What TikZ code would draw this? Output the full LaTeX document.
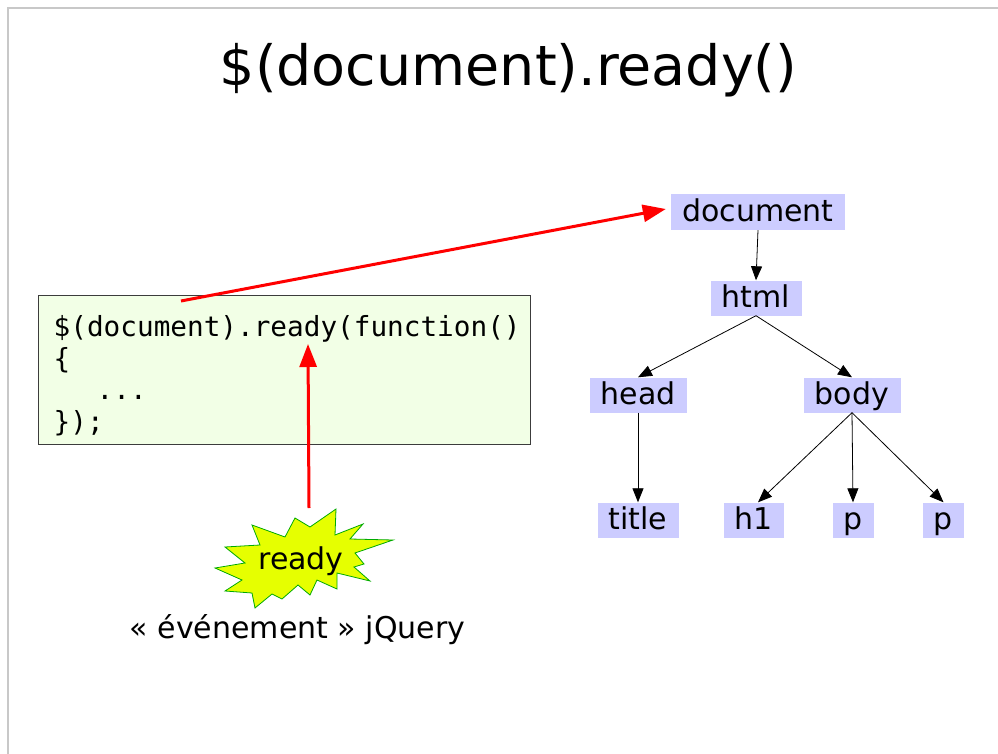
\documentclass[tikz,border=0pt]{standalone}
\usepackage{fontspec}
\setmainfont{DejaVu Sans}
\setmonofont{DejaVu Sans Mono}
\usetikzlibrary{arrows.meta}
\definecolor{lav}{RGB}{204,204,255}
\definecolor{codebg}{RGB}{242,255,230}
\definecolor{codeline}{RGB}{60,60,60}
\definecolor{starfill}{RGB}{230,255,0}
\definecolor{starline}{RGB}{0,170,0}
\definecolor{frame}{RGB}{200,200,200}
\tikzset{
  tnode/.style={fill=lav, inner sep=0pt, minimum height=35pt, text height=20pt, text depth=1pt, font=\fontsize{30}{34}\selectfont},
  tarrow/.style={-{Triangle[length=14pt,width=11pt]}, line width=0.8pt},
  redarrow/.style={-{Triangle[length=23pt,width=17pt]}, line width=3pt, red},
  codetext/.style={anchor=base west, inner sep=0pt, font=\ttfamily\fontsize{27.7}{33}\selectfont},
  plain/.style={anchor=base, inner sep=0pt, font=\fontsize{30}{34}\selectfont}
}
\begin{document}
\begin{tikzpicture}[x=1pt,y=-1pt]
\useasboundingbox (0,0) rectangle (998,754);
\fill[white] (0,0) rectangle (998,754);
\draw[frame, line width=1.5pt] (8,754) -- (8,8) -- (998,8);

% title
\node[anchor=base, inner sep=0pt, font=\fontsize{55.5}{60}\selectfont] (ttl) at (508.5,86) {\$(document).ready()};

% code box
\node[draw=codeline, fill=codebg, line width=0.8pt, minimum width=492pt, minimum height=149pt, inner sep=0pt] (codebox) at (284.5,369.7) {};
\node[codetext] (code1) at (53.5,336.5) {\$(document).ready(function()};
\node[codetext] (code2) at (53.5,368) {\{};
\node[codetext] (code3) at (96.5,399.7) {...};
\node[codetext] (code4) at (53.5,431.3) {\});};

% starburst
\draw[starline, fill=starfill, line width=0.8pt, line join=miter]
 (336,509) -- (335,535) -- (363,524) -- (350,539) -- (393,540) -- (355,553) -- (364,564) -- (354,567)
 -- (370,581) -- (337,573) -- (337,589) -- (317,580) -- (310,595) -- (298,585) -- (282,599) -- (272,594)
 -- (255,608) -- (252,593) -- (225,591) -- (242,580) -- (215,568) -- (245,563) -- (225,547) -- (260,545)
 -- (252,525) -- (285,537) -- (295,518) -- (310,527) -- cycle;
\node[plain] (ready) at (301,569.8) {ready};
\node[plain] (caption) at (297.5,638) {« événement » jQuery};

% tree
\node[tnode, minimum width=174pt, minimum height=36pt] (document) at (758,212) {document};
\node[tnode, minimum width=91pt] (html) at (756,298) {html};
\node[tnode, minimum width=97pt] (head) at (638,395) {head};
\node[tnode, minimum width=97pt] (body) at (852,395) {body};
\node[tnode, minimum width=81pt] (ntitle) at (638,520) {title};
\node[tnode, minimum width=60pt] (h1) at (754,520) {h1};
\node[tnode, minimum width=41pt] (p1) at (853,520) {p};
\node[tnode, minimum width=41pt] (p2) at (943.5,520) {p};

\draw[tarrow] (document.south) -- (html.north);
\draw[tarrow] (html.south) -- (head.north);
\draw[tarrow] (html.south) -- (body.north);
\draw[tarrow] (head.south) -- (ntitle.north);
\draw[tarrow] (body.south) -- ([xshift=4pt]h1.north);
\draw[tarrow] (body.south) -- (p1.north);
\draw[tarrow] (body.south) -- (p2.north);

% red arrows
\coordinate (codestart) at (181,301);
\coordinate (readytop) at (309,508);
\coordinate (codeready) at (308,344);
\draw[redarrow] (codestart) -- ([xshift=-5pt,yshift=3pt]document.west);
\draw[redarrow] (readytop) -- (codeready);
\end{tikzpicture}
\end{document}
